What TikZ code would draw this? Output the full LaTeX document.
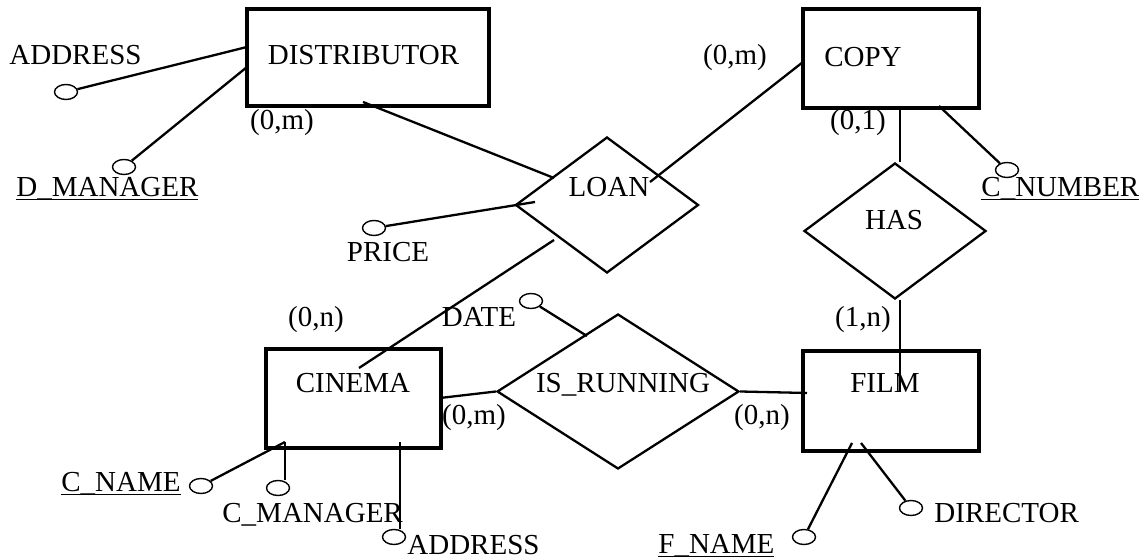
\documentclass[tikz,border=0pt]{standalone}
\usepackage{fontspec}
\setmainfont{Liberation Serif}
\usetikzlibrary{shapes.geometric}
\newcommand{\keyattr}[1]{\underline{\smash{#1}}}

\begin{document}
\begin{tikzpicture}[x=0.5pt,y=-0.5pt,
        font=\fontsize{14.5}{17}\selectfont,
        entity/.style={draw,line width=1.6pt,rectangle,inner sep=0pt},
        rel/.style={draw,line width=1.15pt,diamond,inner sep=0pt},
        attr/.style={draw,line width=0.7pt,ellipse,inner sep=0pt,minimum width=11.5pt,minimum height=7.5pt},
        txt/.style={anchor=base,inner sep=0pt},
        lbl/.style={anchor=base west,inner sep=0pt},
        con/.style={line width=1.15pt}]
        \useasboundingbox (0,0) rectangle (1146,560);

        \node[entity,minimum width=121pt,minimum height=48.5pt] (distributor) at (368,57.5) {};
        \node[entity,minimum width=88pt,minimum height=49.5pt] (copy) at (891,58.5) {};
        \node[entity,minimum width=87.5pt,minimum height=49.5pt] (cinema) at (353.5,398.5) {};
        \node[entity,minimum width=88pt,minimum height=50pt] (film) at (891,401) {};
        \node[txt] (distributor-t) at (363.5,65) {DISTRIBUTOR};
        \node[txt] (copy-t) at (863,67) {COPY};
        \node[txt] (cinema-t) at (353,393) {CINEMA};
        \node[txt] (film-t) at (885,393) {FILM};

        \node[rel,minimum width=91.5pt,minimum height=68pt] (loan) at (607,205) {};
        \node[rel,minimum width=91pt,minimum height=68pt] (has) at (895,231) {};
        \node[rel,minimum width=121pt,minimum height=77.5pt] (isrun) at (618,391.5) {};
        \node[txt] (loan-t) at (609,197) {LOAN};
        \node[txt] (has-t) at (894,230) {HAS};
        \node[txt] (isrun-t) at (623,393) {IS\_RUNNING};

        \node[attr] (dist-addr) at (66,92) {};
        \node[attr] (dist-mgr) at (124,167) {};
        \node[attr] (price) at (374,228) {};
        \node[attr] (c-number) at (1007,170) {};
        \node[attr] (date) at (531,301) {};
        \node[attr] (c-name) at (201,486) {};
        \node[attr] (c-manager) at (278,488) {};
        \node[attr] (cin-addr) at (394,537) {};
        \node[attr] (f-name) at (804,537) {};
        \node[attr] (director) at (911,508) {};
        \node[lbl] (dist-addr-t) at (9,65) {ADDRESS};
        \node[lbl] (dist-mgr-t) at (16,197) {\keyattr{D\_MANAGER}};
        \node[txt] (price-t) at (388,262) {PRICE};
        \node[lbl] (c-number-t) at (981,197) {\keyattr{C\_NUMBER}};
        \node[txt] (date-t) at (479,327) {DATE};
        \node[lbl] (c-name-t) at (61,492) {\keyattr{C\_NAME}};
        \node[lbl] (c-manager-t) at (222,523) {C\_MANAGER};
        \node[lbl] (cin-addr-t) at (407,555) {ADDRESS};
        \node[lbl] (f-name-t) at (658,554) {\keyattr{F\_NAME}};
        \node[lbl] (director-t) at (934,523) {DIRECTOR};

        \node[txt] (card-dist) at (282,130) {(0,m)};
        \node[txt] (card-copy) at (735,65) {(0,m)};
        \node[txt] (card-copy-has) at (858,130) {(0,1)};
        \node[txt] (card-cinema) at (316,327) {(0,n)};
        \node[txt] (card-film-has) at (863,327) {(1,n)};
        \node[txt] (card-cinema-run) at (474,425) {(0,m)};
        \node[txt] (card-film-run) at (762,425) {(0,n)};

        \coordinate (dist-w1) at (247,47);
        \coordinate (dist-w2) at (247,67);
        \coordinate (dist-s) at (363,102);
        \coordinate (loan-nw) at (554,178);
        \coordinate (loan-w) at (535,202);
        \coordinate (loan-ne) at (650,182);
        \coordinate (loan-sw) at (554,240);
        \coordinate (copy-w) at (803,62);
        \coordinate (copy-s1) at (900,106);
        \coordinate (copy-s2) at (939,106);
        \coordinate (cinema-n) at (359,368);
        \coordinate (cinema-e) at (440,398);
        \coordinate (cinema-s1) at (285,442);
        \coordinate (cinema-s2) at (400,442);
        \coordinate (isrun-nw) at (587,336);
        \coordinate (film-n) at (900,392);
        \coordinate (film-w) at (807,393);
        \coordinate (film-s1) at (852,443);
        \coordinate (film-s2) at (861,443);

        \draw[con] (dist-addr) -- (dist-w1);
        \draw[con] (dist-mgr) -- (dist-w2);
        \draw[con] (dist-s) -- (loan-nw);
        \draw[con] (price) -- (loan-w);
        \draw[con] (loan-ne) -- (copy-w);
        \draw[con] (loan-sw) -- (cinema-n);
        \draw[con] (copy-s1) -- (copy-s1 |- has.north);
        \draw[con] (copy-s2) -- (c-number);
        \draw[con] (film-n |- has.south) -- (film-n);
        \draw[con] (date) -- (isrun-nw);
        \draw[con] (cinema-e) -- (isrun.west);
        \draw[con] (isrun.east) -- (film-w);
        \draw[con] (c-name) -- (cinema-s1);
        \draw[con] (cinema-s1) -- (cinema-s1 |- c-manager.north);
        \draw[con] (cinema-s2) -- (cinema-s2 |- cin-addr.north);
        \draw[con] (f-name) -- (film-s1);
        \draw[con] (director) -- (film-s2);
    \end{tikzpicture}
\end{document}
